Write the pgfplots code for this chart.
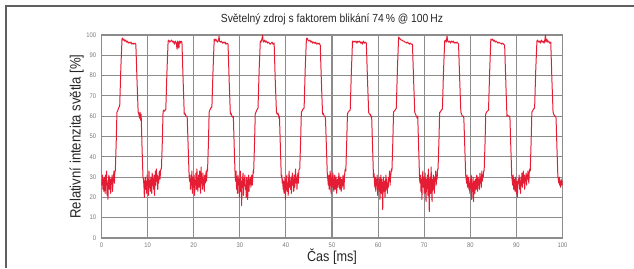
\documentclass[border=0pt]{standalone}
\usepackage{pgfplots}
\pgfplotsset{compat=1.18}
\usepackage{fontspec}
\setmainfont{Liberation Sans}[FakeStretch=0.88]
\definecolor{sig}{RGB}{228,28,52}
\definecolor{gridc}{RGB}{140,140,140}
\definecolor{framec}{RGB}{95,95,95}
\definecolor{tickc}{RGB}{120,120,120}
\begin{document}
\begin{tikzpicture}
\useasboundingbox (-76.125pt,-22.5pt) rectangle (399.375pt,178.5pt);
\draw[framec, line width=1.1pt] (-71.6pt,-22.5pt) -- (-71.6pt,174pt) -- (399.375pt,174pt);
\begin{axis}[
  scale only axis, width=345.75pt, height=152.25pt,
  at={(0,0)}, anchor=south west,
  xmin=0, xmax=100, ymin=0, ymax=100,
  xtick={0,10,...,100}, ytick={0,10,...,100},
  grid=major,
  grid style={gridc, line width=0.8pt},
  axis line style={gridc, line width=0.8pt},
  major tick length=0pt,
  /pgf/number format/assume math mode=true,
  ticklabel style={font=\fontsize{5}{6}\selectfont, text=tickc},
  yticklabel style={xshift=-0.5pt},
  title={Světelný zdroj s faktorem blikání 74\,\% @ 100\,Hz},
  title style={font=\fontsize{8.8}{10}\selectfont, at={(axis description cs:0.5,1)}, anchor=center, yshift=5.5pt, text=black!85},
  xlabel={Čas [ms]},
  xlabel style={font=\fontsize{10.8}{12}\selectfont, at={(axis description cs:0.5,0)}, anchor=center, yshift=-13.9pt, text=black!85},
  ylabel={Relativní intenzita světla [\%]},
  ylabel style={font=\fontsize{11.2}{12}\selectfont, at={(axis description cs:0,0.5)}, anchor=center, yshift=18.6pt, text=black!85},
]
\addplot[sig, line width=0.75pt, line join=round] coordinates {
(0.0,26) (0.1,27) (0.2,31) (0.3,24) (0.4,29) (0.5,23) (0.6,30) (0.7,28) (0.8,22) (0.9,31) (1.0,26) (1.1,33) (1.2,21) (1.3,27) (1.4,19) (1.5,28) (1.6,31) (1.7,24) (1.8,30) (1.9,25) (2.0,22) (2.1,29) (2.2,27) (2.3,31) (2.4,23) (2.5,28) (2.6,30) (2.7,33) (2.8,27) (2.9,33)
(3.0,33) (3.2,48) (3.35,62) (3.5,62.5) (3.7,64) (3.95,65) (4.2,84) (4.45,98) (4.55,98.5) (4.7,97.5) (4.85,98) (5.0,97) (5.2,97.5) (5.4,96.5) (5.6,97) (5.8,96) (6.0,96.5) (6.2,96) (6.4,96.5) (6.6,95.5) (6.8,96) (7.0,95.5) (7.2,96) (7.45,95.5) (7.7,78) (7.95,62) (8.1,61) (8.25,59) (8.35,62) (8.5,58) (8.6,61) (8.8,44) (9.0,30)
(9.1,29) (9.2,26) (9.3,20) (9.4,27) (9.5,30) (9.6,24) (9.7,28) (9.8,22) (9.9,31) (10.0,26) (10.1,29) (10.2,21) (10.3,33) (10.4,25) (10.5,28) (10.6,23) (10.7,30) (10.8,27) (10.9,22) (11.0,32) (11.1,26) (11.2,29) (11.3,24) (11.4,31) (11.5,21) (11.6,28) (11.7,33) (11.8,26) (11.9,34) (12.0,28) (12.1,31) (12.2,24) (12.3,30) (12.4,27) (12.5,32) (12.6,33) (12.7,29) (12.8,33) (12.9,34)
(13.0,34) (13.2,48) (13.35,62) (13.5,63) (13.7,62.5) (13.95,63.5) (14.2,82) (14.45,97) (14.6,97.5) (14.8,96.5) (15.0,97) (15.2,97.5) (15.4,96.5) (15.6,97) (15.8,95.5) (16.0,97) (16.2,96) (16.4,93) (16.5,97) (16.6,94) (16.7,96.5) (16.8,93.5) (16.9,97) (17.1,96) (17.25,97) (17.45,96.5) (17.7,78) (17.95,61) (18.1,61.5) (18.3,60) (18.5,60) (18.6,59) (18.8,45) (19.0,31)
(19.1,28) (19.2,31) (19.3,24) (19.4,29) (19.5,26) (19.6,33) (19.7,22) (19.8,30) (19.9,27) (20.0,25) (20.1,31) (20.2,21) (20.3,28) (20.4,26) (20.5,32) (20.6,24) (20.7,34) (20.8,27) (20.9,23) (21.0,29) (21.1,31) (21.2,25) (21.3,33) (21.4,28) (21.5,22) (21.6,35) (21.7,27) (21.8,30) (21.9,24) (22.0,32) (22.1,26) (22.2,29) (22.3,23) (22.4,31) (22.5,27) (22.6,30) (22.7,33) (22.8,28) (22.9,34)
(23.0,33) (23.2,47) (23.35,62) (23.5,63) (23.7,64) (23.95,64.5) (24.2,83) (24.45,98) (24.6,97) (24.8,98) (25.0,97) (25.2,96.5) (25.4,97.5) (25.5,99.5) (25.6,97) (25.8,96.5) (26.0,97) (26.2,96) (26.4,96.5) (26.6,96) (26.8,96.5) (27.0,95.5) (27.2,96) (27.45,95.5) (27.7,77) (27.95,61) (28.1,61.5) (28.3,60) (28.5,59.5) (28.6,60) (28.8,44) (29.0,30)
(29.1,28) (29.2,33) (29.3,24) (29.4,30) (29.5,22) (29.6,31) (29.7,26) (29.8,29) (29.9,20) (30.0,27) (30.1,33) (30.2,23) (30.3,28) (30.4,16) (30.5,30) (30.6,25) (30.7,32) (30.8,21) (30.9,29) (31.0,27) (31.1,31) (31.2,24) (31.3,26) (31.4,20) (31.5,30) (31.6,28) (31.7,19) (31.8,25) (31.9,31) (32.0,23) (32.1,29) (32.2,27) (32.3,30) (32.4,25) (32.5,28) (32.6,31) (32.7,26) (32.8,29) (32.9,33)
(33.0,32) (33.2,47) (33.35,61) (33.5,62) (33.7,63) (33.95,64) (34.2,83) (34.45,97) (34.6,96.5) (34.8,98) (34.95,100) (35.05,97) (35.2,96.5) (35.4,97.5) (35.6,96.5) (35.8,97) (36.0,96) (36.2,96.5) (36.4,96) (36.6,95.5) (36.8,96) (37.0,96.5) (37.2,95.5) (37.45,96) (37.7,77) (37.95,62) (38.1,61) (38.3,61.5) (38.5,59) (38.6,60) (38.8,45) (39.0,30)
(39.1,31) (39.2,27) (39.3,29) (39.4,24) (39.5,28) (39.6,22) (39.7,26) (39.8,30) (39.9,19) (40.0,25) (40.1,28) (40.2,31) (40.3,23) (40.4,27) (40.5,21) (40.6,29) (40.7,33) (40.8,25) (40.9,28) (41.0,24) (41.1,30) (41.2,22) (41.3,27) (41.4,32) (41.5,26) (41.6,29) (41.7,23) (41.8,31) (41.9,25) (42.0,28) (42.1,34) (42.2,27) (42.3,30) (42.4,24) (42.5,29) (42.6,32) (42.7,27) (42.8,33) (42.9,34)
(43.0,34) (43.2,48) (43.35,62) (43.5,62.5) (43.7,63.5) (43.95,64) (44.2,84) (44.45,98) (44.6,98.5) (44.8,97.5) (45.0,97) (45.2,97.5) (45.4,96.5) (45.6,97) (45.8,96) (46.0,96.5) (46.2,96) (46.4,96.5) (46.6,95.5) (46.8,96) (47.0,95.5) (47.2,96) (47.45,95) (47.7,77) (47.95,61) (48.1,61.5) (48.3,60) (48.5,60) (48.6,58) (48.8,44) (49.0,30)
(49.1,29) (49.2,26) (49.3,31) (49.4,24) (49.5,28) (49.6,33) (49.7,27) (49.8,22) (49.9,30) (50.0,25) (50.1,29) (50.2,32) (50.3,26) (50.4,23) (50.5,28) (50.6,31) (50.7,24) (50.8,27) (50.9,30) (51.0,22) (51.1,26) (51.2,29) (51.3,25) (51.4,28) (51.5,32) (51.6,27) (51.7,24) (51.8,30) (51.9,26) (52.0,23) (52.1,29) (52.2,25) (52.3,28) (52.4,31) (52.5,27) (52.6,24) (52.7,30) (52.8,33) (52.9,34)
(53.0,33) (53.2,48) (53.35,61) (53.5,62) (53.7,62.5) (53.95,63) (54.2,82) (54.45,97) (54.6,96.5) (54.8,97) (55.0,96.5) (55.2,97) (55.4,96) (55.6,97) (55.8,96.5) (56.0,97) (56.2,96) (56.4,96.5) (56.6,95.5) (56.8,97) (57.0,96) (57.2,96.5) (57.45,96) (57.7,78) (57.95,62) (58.1,61) (58.3,61) (58.5,59.5) (58.6,60) (58.8,45) (59.0,30)
(59.1,32) (59.2,28) (59.3,25) (59.4,30) (59.5,23) (59.6,29) (59.7,26) (59.8,31) (59.9,21) (60.0,27) (60.1,24) (60.2,30) (60.3,28) (60.4,19) (60.5,26) (60.6,31) (60.7,22) (60.8,29) (60.9,25) (61.0,14) (61.1,27) (61.2,30) (61.3,23) (61.4,28) (61.5,20) (61.6,26) (61.7,31) (61.8,24) (61.9,29) (62.0,22) (62.1,27) (62.2,25) (62.3,30) (62.4,28) (62.5,33) (62.6,26) (62.7,30) (62.8,32) (62.9,34)
(63.0,33) (63.2,48) (63.35,62) (63.5,62.5) (63.7,63) (63.95,64) (64.2,84) (64.45,99) (64.6,98.5) (64.8,98) (65.0,97.5) (65.2,97.5) (65.4,97) (65.6,97) (65.8,96.5) (66.0,96.5) (66.2,96) (66.4,96.5) (66.6,96) (66.8,95.5) (67.0,96) (67.2,95.5) (67.45,95.5) (67.7,78) (67.95,62) (68.1,61) (68.3,60) (68.5,59) (68.6,60) (68.8,44) (69.0,29)
(69.1,27) (69.2,31) (69.3,23) (69.4,29) (69.5,19) (69.6,28) (69.7,33) (69.8,25) (69.9,30) (70.0,22) (70.1,27) (70.2,32) (70.3,24) (70.4,18) (70.5,29) (70.6,26) (70.7,31) (70.8,21) (70.9,34) (71.0,25) (71.1,13) (71.2,28) (71.3,30) (71.4,22) (71.5,35) (71.6,26) (71.7,18) (71.8,29) (71.9,24) (72.0,31) (72.1,27) (72.2,22) (72.3,30) (72.4,28) (72.5,33) (72.6,26) (72.7,31) (72.8,29) (72.9,34)
(73.0,34) (73.2,48) (73.35,62) (73.5,62) (73.7,63) (73.95,63.5) (74.2,83) (74.45,97) (74.6,97.5) (74.8,96.5) (74.95,99.5) (75.1,97) (75.3,96.5) (75.5,97) (75.7,96) (75.9,97) (76.1,96.5) (76.3,97) (76.5,96) (76.7,96.5) (76.9,96) (77.1,96.5) (77.3,96) (77.45,95.5) (77.7,78) (77.95,62) (78.1,61) (78.3,60) (78.5,60) (78.6,59) (78.8,45) (79.0,31)
(79.1,29) (79.2,27) (79.3,31) (79.4,25) (79.5,28) (79.6,30) (79.7,24) (79.8,27) (79.9,22) (80.0,29) (80.1,26) (80.2,31) (80.3,19) (80.4,27) (80.5,23) (80.6,30) (80.7,18) (80.8,25) (80.9,28) (81.0,22) (81.1,29) (81.2,26) (81.3,24) (81.4,31) (81.5,27) (81.6,23) (81.7,30) (81.8,26) (81.9,29) (82.0,24) (82.1,32) (82.2,27) (82.3,30) (82.4,25) (82.5,33) (82.6,28) (82.7,31) (82.8,30) (82.9,33)
(83.0,33) (83.2,47) (83.35,61) (83.5,62) (83.7,62.5) (83.95,63) (84.2,82) (84.45,98) (84.6,97.5) (84.8,98) (85.0,97) (85.2,97.5) (85.4,96.5) (85.6,97) (85.8,96.5) (86.0,96) (86.2,96.5) (86.4,96) (86.6,96) (86.8,95.5) (87.0,96) (87.2,95.5) (87.45,95) (87.7,77) (87.95,60) (88.1,60.5) (88.3,60) (88.5,60) (88.6,59) (88.8,44) (89.0,30)
(89.1,28) (89.2,26) (89.3,31) (89.4,24) (89.5,27) (89.6,29) (89.7,23) (89.8,30) (89.9,26) (90.0,22) (90.1,28) (90.2,20) (90.3,25) (90.4,29) (90.5,27) (90.6,31) (90.7,24) (90.8,28) (90.9,22) (91.0,30) (91.1,26) (91.2,32) (91.3,25) (91.4,29) (91.5,33) (91.6,27) (91.7,31) (91.8,24) (91.9,30) (92.0,28) (92.1,32) (92.2,26) (92.3,31) (92.4,29) (92.5,33) (92.6,30) (92.7,27) (92.8,33) (92.9,34)
(93.0,33) (93.2,48) (93.35,62) (93.5,62.5) (93.7,63.5) (93.95,64) (94.2,83) (94.45,97) (94.6,97.5) (94.8,96.5) (95.0,97) (95.2,96) (95.4,97.5) (95.6,96.5) (95.8,97) (96.0,96) (96.2,98) (96.3,100) (96.4,96.5) (96.6,98) (96.8,96.5) (97.0,97) (97.2,96) (97.45,96.5) (97.7,78) (97.95,62) (98.1,61) (98.3,60) (98.5,60) (98.6,59) (98.8,44) (99.0,30)
(99.1,29) (99.2,27) (99.3,30) (99.4,26) (99.5,28) (99.6,25) (99.7,29) (99.8,27) (99.9,26) (100.0,28)
};
\end{axis}
\end{tikzpicture}
\end{document}
